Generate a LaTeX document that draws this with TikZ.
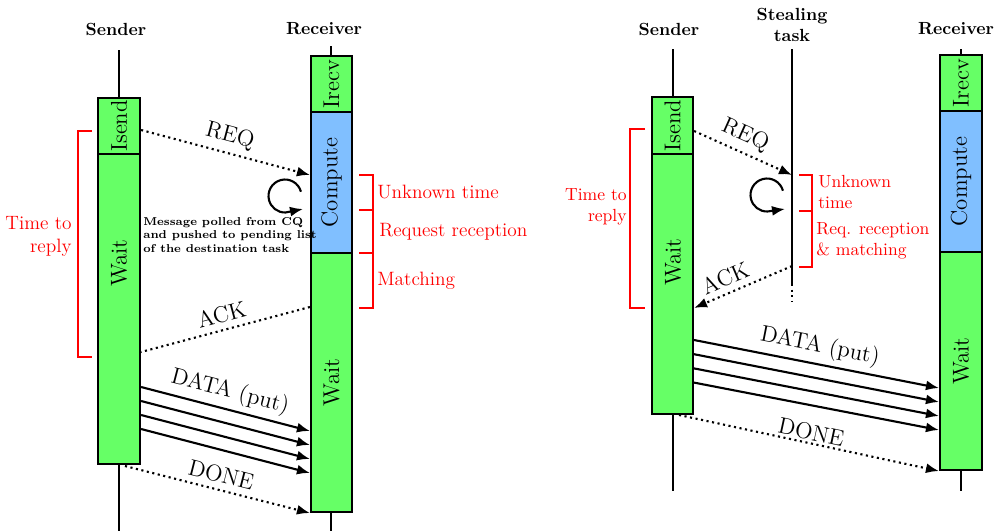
\documentclass[tikz,border=0pt]{standalone}
\usepackage{fontspec}
\usetikzlibrary{positioning,fit,arrows.meta}
\definecolor{waitgreen}{RGB}{102,255,102}
\definecolor{compblue}{RGB}{128,191,255}
\tikzset{
  phase/.style={draw, line width=1.2pt, inner sep=0pt},
  ptext/.style={rotate=90, font=\fontsize{13}{15}\selectfont},
  life/.style={line width=1.2pt},
  msg/.style={line width=1.2pt, -{Latex[length=2.6mm,width=2mm]}},
  ctl/.style={msg, dotted},
  mlabel/.style={sloped, above, font=\fontsize{13}{15}\selectfont},
  who/.style={font=\bfseries, align=center},
  brk/.style={red, line width=1.2pt},
  rnote/.style={red, anchor=west, inner sep=0pt, align=left}
}

\begin{document}
\begin{tikzpicture}[x=0.02cm, y=-0.02cm]
\useasboundingbox (0,0) rectangle (998,531);

% ---------- left: sender / receiver ----------
\node[who] (Sa) at (116,29) {Sender};
\node[who] (Ra) at (324,29) {Receiver};

\coordinate (Sa0) at (119,50);  \coordinate (Sa1) at (119,531);
\coordinate (Ra0) at (331,46);  \coordinate (Ra1) at (331,531);
\draw[life] (Sa0) -- (Sa1);
\draw[life] (Ra0) -- (Ra1);

\node[phase, fill=waitgreen, fit={(98,98) (140,154)}] (SIa) {};
\node[phase, fill=waitgreen, fit={(98,154) (140,464)}] (SWa) {};
\node[phase, fill=waitgreen, fit={(311,56) (352,112)}] (RIa) {};
\node[phase, fill=compblue, fit={(311,112) (352,253)}] (RCa) {};
\node[phase, fill=waitgreen, fit={(311,253) (352,512)}] (RWa) {};

\node[ptext] (tSIa) at (SIa) {Isend};
\node[ptext] (tSWa) at (119,263) {Wait};
\node[ptext] (tRIa) at (RIa) {Irecv};
\node[ptext] (tRCa) at (RCa) {Compute};
\node[ptext] (tRWa) at (RWa) {Wait};

% messages
\draw[ctl] (SIa.east |- 0,130) -- node[mlabel] {REQ} (RCa.west |- 0,175);
\draw[ctl, -] (RWa.west |- 0,307) -- node[mlabel] {ACK} (SWa.east |- 0,352);
\foreach \i in {0,1,2,3}
  \draw[msg] (SWa.east |- 0,387+14*\i) -- (RWa.west |- 0,431+14*\i);
\path (SWa.east |- 0,387) -- node[mlabel] {DATA (put)} (RWa.west |- 0,431);
\coordinate (Da) at (125,466);
\draw[ctl] (Da) -- node[mlabel] {DONE} (RWa.south west);

% polling loop
\coordinate (La) at (285,196);
\draw[msg] ([shift={(15:0.33cm)}]La) arc[start angle=15, end angle=272, radius=0.33cm] -- (303,209);
\node[anchor=west, inner sep=0pt, align=left, font=\fontsize{6.5}{7.9}\selectfont\bfseries] (Na) at (143,235)
  {Message polled from CQ\\and pushed to pending list\\of the destination task};

% timings
\draw[brk] (359,175) -- (373,175) -- (373,308) -- (359,308);
\draw[brk] (359,210) -- (373,210);
\draw[brk] (359,253) -- (373,253);
\node[rnote, font=\fontsize{11}{13}\selectfont] (Ua) at (377,192) {Unknown time};
\node[rnote, font=\fontsize{11}{13}\selectfont] (Qa) at (379,232) {Request reception};
\node[rnote, font=\fontsize{11}{13}\selectfont] (Ma) at (377,281) {Matching};
\draw[brk] (92,131) -- (78,131) -- (78,357) -- (92,357);
\node[red, anchor=east, inner sep=0pt, align=right, font=\fontsize{11}{13}\selectfont] (Ta) at (72,236) {Time to\\reply};

% ---------- right: sender / stealing task / receiver ----------
\node[who] (Sb) at (669,29) {Sender};
\node[who] (Tb) at (792,25) {Stealing\\task};
\node[who] (Rb) at (956,29) {Receiver};

\coordinate (Sb0) at (673,49);  \coordinate (Sb1) at (673,491);
\coordinate (Tb0) at (792,49);  \coordinate (Tb1) at (792,284);
\coordinate (Tb2) at (792,302);
\coordinate (Rb0) at (961,49);  \coordinate (Rb1) at (961,491);
\draw[life] (Sb0) -- (Sb1);
\draw[life] (Tb0) -- (Tb1);
\draw[life, dotted] (Tb1) -- (Tb2);
\draw[life] (Rb0) -- (Rb1);

\node[phase, fill=waitgreen, fit={(652,97) (693,154)}] (SIb) {};
\node[phase, fill=waitgreen, fit={(652,154) (693,414)}] (SWb) {};
\node[phase, fill=waitgreen, fit={(940,55) (982,111)}] (RIb) {};
\node[phase, fill=compblue, fit={(940,111) (982,252)}] (RCb) {};
\node[phase, fill=waitgreen, fit={(940,252) (982,470)}] (RWb) {};

\node[ptext] (tSIb) at (SIb) {Isend};
\node[ptext] (tSWb) at (673,262) {Wait};
\node[ptext] (tRIb) at (RIb) {Irecv};
\node[ptext] (tRCb) at (RCb) {Compute};
\node[ptext] (tRWb) at (RWb) {Wait};

% messages
\coordinate (Qb) at (792,175);
\coordinate (Ab) at (792,266);
\draw[ctl] (SIb.east |- 0,131) -- node[mlabel, pos=0.45] {REQ} (Qb);
\draw[ctl] (Ab) -- node[mlabel, pos=0.62] {ACK} (SWb.east |- 0,308);
\foreach \i in {0,1,2,3}
  \draw[msg] (SWb.east |- 0,340+14.2*\i) -- (RWb.west |- 0,388+14*\i);
\path (SWb.east |- 0,340) -- node[mlabel] {DATA (put)} (RWb.west |- 0,388);
\coordinate (Db) at (679,415);
\draw[ctl] (Db) -- node[mlabel, inner sep=1pt] {DONE} (RWb.south west);

% polling loop
\coordinate (Lb) at (767,195);
\draw[msg] ([shift={(15:0.33cm)}]Lb) arc[start angle=15, end angle=272, radius=0.33cm] -- (785,209);

% timings
\draw[brk] (799,175) -- (812,175) -- (812,267) -- (799,267);
\draw[brk] (799,211) -- (812,211);
\node[rnote] (Ub) at (818,192) {Unknown\\time};
\node[rnote] (Mb) at (816,241) {Req. reception\\\& matching};
\draw[brk] (645,129) -- (630,129) -- (630,308) -- (645,308);
\node[red, anchor=east, inner sep=0pt, align=right] (Tr) at (627,207) {Time to\\reply};

\end{tikzpicture}
\end{document}
